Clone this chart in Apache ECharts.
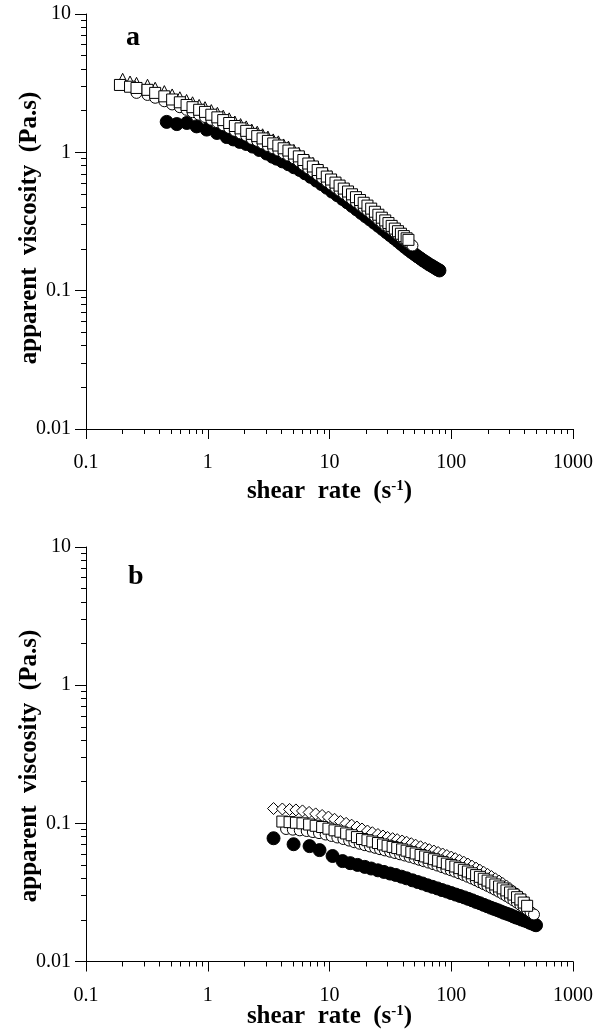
<!DOCTYPE html>
<html>
<head>
<meta charset="utf-8">
<script src="https://cdn.jsdelivr.net/npm/echarts@6.0.0/dist/echarts.min.js"></script>
<style>
html,body{margin:0;padding:0;background:#fff}
#chart{width:596px;height:1030px}
</style>
</head>
<body>
<div id="chart"></div>
<script>
// ---- panel a data (shear rate s-1, apparent viscosity Pa.s) ----
const aBlackX = [0.46,0.557,0.673,0.81,0.98,1.19,1.43,1.62,1.83,2.07,2.34,2.65,3.05,3.4,3.68,4.1,4.6,5.1,5.7,6.3,7.0,7.8,8.6,9.5,10.5,11.6,12.8,14.0,15.3,16.7,18.2,19.8,21.5,23.3,25.2,27.2,29.3,31.5,33.8,36.2,38.7,41.3,44.0,46.8,49.7,52.7,55.8,59.0,62.3,65.7,69.2,72.8,76.5,80];
const aBlackY = [1.66,1.60,1.63,1.54,1.46,1.38,1.29,1.24,1.19,1.15,1.10,1.04,0.98,0.93,0.90,0.86,0.82,0.78,0.745,0.705,0.665,0.625,0.59,0.555,0.52,0.49,0.46,0.435,0.41,0.387,0.365,0.345,0.327,0.31,0.294,0.279,0.265,0.252,0.24,0.229,0.218,0.208,0.199,0.191,0.184,0.177,0.171,0.165,0.16,0.155,0.151,0.147,0.143,0.14];

const aOpenX = [0.26,0.32,0.37,0.44,0.51,0.59,0.67,0.75,0.85,0.95,1.07,1.2,1.34,1.5,1.67,1.86,2.07,2.3,2.55,2.82,3.12,3.45,3.8,4.2,4.6,5.1,5.6,6.1,6.7,7.3,8.0,8.7,9.5,10.3,11.2,12.1,13.1,14.2,15.3,16.5,17.8,19.1,20.5,22.0,23.6,25.2,26.9,28.7,30.5,32.4,34.4,36.5,38.6,40.8,43.0,44.5,46.5,48];
const aOpenY = [2.69,2.60,2.48,2.34,2.22,2.12,2.03,1.95,1.87,1.80,1.72,1.65,1.57,1.50,1.43,1.37,1.32,1.25,1.21,1.16,1.11,1.07,1.03,0.985,0.948,0.905,0.86,0.81,0.765,0.727,0.686,0.65,0.615,0.585,0.556,0.529,0.503,0.479,0.457,0.436,0.416,0.397,0.379,0.361,0.343,0.327,0.311,0.297,0.287,0.275,0.264,0.253,0.243,0.234,0.226,0.221,0.216,0.212];

const aTriX = [0.2,0.23,0.26,0.32,0.37,0.44,0.51,0.59,0.67,0.75,0.85,0.95,1.07,1.2,1.34,1.5,1.67,1.86,2.07,2.3,2.55,2.82,3.12,3.45,3.8,4.2,4.6,5.1,5.6,6.1,6.7,7.3,8.0,8.7,9.5,10.3,11.2,12.1,13.1,14.2,15.3,16.5,17.8,19.1,20.5,22.0,23.6,25.2,26.9,28.7,30.5,32.4,34.4,36.5,38.6,40.8];
const aTriY = [3.40,3.25,3.18,3.08,2.93,2.77,2.62,2.50,2.39,2.30,2.20,2.12,2.02,1.93,1.84,1.76,1.67,1.60,1.54,1.46,1.41,1.35,1.30,1.24,1.20,1.14,1.10,1.04,0.99,0.935,0.88,0.838,0.79,0.748,0.706,0.672,0.637,0.606,0.576,0.548,0.522,0.498,0.474,0.453,0.432,0.411,0.39,0.371,0.353,0.337,0.322,0.308,0.294,0.282,0.270,0.260];

const aSquareX = [0.19,0.23,0.26,0.32,0.37,0.44,0.51,0.59,0.67,0.75,0.85,0.95,1.07,1.2,1.34,1.5,1.67,1.86,2.07,2.3,2.55,2.82,3.12,3.45,3.8,4.2,4.6,5.1,5.6,6.1,6.7,7.3,8.0,8.7,9.5,10.3,11.2,12.1,13.1,14.2,15.3,16.5,17.8,19.1,20.5,22.0,23.6,25.2,26.9,28.7,30.5,32.4,34.4,36.5,38.6,40.8,43.0,44.5];
const aSquareY = [3.07,2.98,2.92,2.83,2.69,2.54,2.41,2.30,2.20,2.12,2.03,1.96,1.87,1.79,1.71,1.63,1.55,1.49,1.43,1.36,1.31,1.26,1.21,1.16,1.12,1.07,1.03,0.98,0.935,0.88,0.83,0.79,0.745,0.706,0.668,0.636,0.604,0.575,0.547,0.521,0.497,0.474,0.452,0.432,0.412,0.392,0.372,0.354,0.337,0.322,0.308,0.294,0.281,0.269,0.258,0.248,0.239,0.233];

// ---- panel b data ----
const bBlackX = [3.47,5.07,6.86,8.28,10.6,12.8,14.8,17,19.5,22,25,28,31.5,35,39,43,48,53,58,64,70,77,84,92,100,109,118,128,138,149,160,172,185,198,212,226,241,256,272,289,306,324,342,361,380,400,420,441,462,484,497];
const bBlackY = [0.078,0.0706,0.0684,0.064,0.058,0.0533,0.0515,0.050,0.0484,0.0471,0.0457,0.0445,0.0433,0.0423,0.0411,0.040,0.0387,0.0376,0.0367,0.0356,0.0347,0.0338,0.0329,0.0321,0.0313,0.0305,0.0298,0.0291,0.0284,0.0277,0.0270,0.0264,0.0257,0.0251,0.0245,0.0240,0.0235,0.0230,0.0225,0.0221,0.0217,0.0212,0.0208,0.0205,0.0201,0.0198,0.0195,0.0191,0.0188,0.0185,0.0183];

const bOpenX = [4.4,5.0,5.7,6.5,7.3,8.2,9.3,10.4,11.6,13,14.5,16,17.7,19.5,21.5,23.7,26,28.5,31.5,34.5,38,41.5,45.5,50,54.5,59.5,65,71,77,84,91,99,107,116,126,136,147,159,171,184,198,213,229,246,264,283,303,324,346,369,393,418,448,478];
const bOpenY = [0.091,0.090,0.089,0.088,0.0865,0.085,0.083,0.081,0.079,0.077,0.075,0.073,0.0712,0.0695,0.068,0.0665,0.065,0.0637,0.0623,0.061,0.0597,0.0585,0.0572,0.0558,0.0545,0.0532,0.052,0.0507,0.0495,0.0482,0.047,0.0458,0.0447,0.0435,0.0423,0.0411,0.0399,0.0387,0.0375,0.0364,0.0353,0.0342,0.0331,0.032,0.0309,0.0298,0.0288,0.0277,0.0267,0.0257,0.0247,0.0238,0.0228,0.0219];

const bDiamondX = [3.47,4.1,4.7,5.3,6.0,6.8,7.7,8.7,9.8,11,12.3,13.7,15.2,16.8,18.5,20.5,22.5,25,27.5,30,33,36,39.5,43,47,51,56,61,66,72,78,85,92,100,108,117,127,137,148,160,172,185,199,214,230,247,265,284,304,325,347,370,394];
const bDiamondY = [0.128,0.127,0.126,0.125,0.123,0.120,0.117,0.114,0.111,0.107,0.103,0.100,0.097,0.094,0.091,0.088,0.0855,0.083,0.081,0.079,0.0775,0.0762,0.0745,0.073,0.0712,0.0695,0.0677,0.066,0.0645,0.063,0.0615,0.060,0.0585,0.057,0.0555,0.054,0.0523,0.0507,0.049,0.0474,0.0458,0.0442,0.0427,0.0412,0.0397,0.0382,0.0367,0.0352,0.0337,0.0322,0.0308,0.0294,0.028];

const bSquareX = [4.1,4.7,5.3,6.0,6.8,7.7,8.7,9.8,11,12.3,13.7,15.2,16.8,18.5,20.5,22.5,25,27.5,30,33,36,39.5,43,47,51,56,61,66,72,78,85,92,100,108,117,127,137,148,160,172,185,199,214,230,247,265,284,304,325,347,370,394,420];
const bSquareY = [0.103,0.102,0.101,0.100,0.098,0.096,0.094,0.0915,0.089,0.087,0.0845,0.082,0.0795,0.077,0.0755,0.0738,0.072,0.0703,0.0688,0.0675,0.0662,0.0648,0.0634,0.0619,0.0605,0.059,0.0576,0.0563,0.055,0.0537,0.0524,0.0511,0.0499,0.0487,0.0474,0.0461,0.0448,0.0435,0.0422,0.041,0.0397,0.0385,0.0373,0.0361,0.0349,0.0338,0.0327,0.0316,0.0305,0.0292,0.0281,0.0267,0.0253];

// tick labels
const xTickLabels = ['0.1','1','10','100','1000'];
const yTickLabels = ['0.01','0.1','1','10'];
const minorMult = [2,3,4,5,6,7,8,9];

const SERIF = '"Liberation Serif", "Times New Roman", serif';
const Y_TITLE = 'apparent  viscosity  (Pa.s)';

function pts(xs, ys){ return xs.map((x,i)=>[x, ys[i]]); }

// minor log tick positions (log10 space), axis decoration only
function minorLogs(lo, hi){
  const out=[];
  for(let e=lo;e<hi;e++) minorMult.forEach(m=>out.push(e+Math.log10(m)));
  return out;
}

const nameRich = {
  t:{fontFamily:SERIF,fontWeight:'bold',fontSize:25,color:'#000',lineHeight:26},
  s:{fontFamily:SERIF,fontWeight:'bold',fontSize:15,color:'#000',verticalAlign:'top',lineHeight:26}
};

function logX(g, gap){
  return {
    type:'log', logBase:10, gridIndex:g, min:0.1, max:1000, position:'bottom',
    name:'{t|shear  rate  (s}{s|-1}{t|)}', nameLocation:'middle', nameGap:gap, nameMoveOverlap:false,
    nameTextStyle:{rich:nameRich},
    axisLine:{onZero:false, lineStyle:{color:'#000', width:1}},
    axisTick:{length:10, lineStyle:{color:'#000'}},
    splitLine:{show:false},
    axisLabel:{fontFamily:SERIF, fontSize:20, color:'#000', margin:24,
      formatter:v=>xTickLabels[Math.round(Math.log10(v))+1]}
  };
}
function logY(g){
  return {
    type:'log', logBase:10, gridIndex:g, min:0.01, max:10, position:'left',
    axisLine:{onZero:false, lineStyle:{color:'#000', width:1}},
    axisTick:{length:11, lineStyle:{color:'#000'}},
    splitLine:{show:false},
    axisLabel:{fontFamily:SERIF, fontSize:20, color:'#000', margin:15,
      formatter:v=>yTickLabels[Math.round(Math.log10(v))+2]}
  };
}
function minorX(g){
  return {
    type:'value', gridIndex:g, min:-1, max:3, position:'bottom',
    axisLine:{show:false, onZero:false},
    axisTick:{show:true, length:5, customValues:minorLogs(-1,3), lineStyle:{color:'#000'}},
    axisLabel:{show:false}, splitLine:{show:false}
  };
}
function minorY(g){
  return {
    type:'value', gridIndex:g, min:-2, max:1, position:'left',
    axisLine:{show:false, onZero:false},
    axisTick:{show:true, length:5, customValues:minorLogs(-2,1), lineStyle:{color:'#000'}},
    axisLabel:{show:false}, splitLine:{show:false}
  };
}

function yTitle(cy){
  return {type:'text', x:30, y:cy, rotation:Math.PI/2,
    style:{text:Y_TITLE, font:'bold 25px "Liberation Serif"', fill:'#000', align:'center', verticalAlign:'middle'}};
}

function sc(name, g, data, symbol, size, filled){
  return {
    type:'scatter', name:name, xAxisIndex:g, yAxisIndex:g, data:data,
    symbol:symbol, symbolSize:size,
    itemStyle:{color: filled ? '#000' : '#fff', borderColor:'#000', borderWidth:1, opacity:1},
    emphasis:{disabled:true}
  };
}

const chart = echarts.init(document.getElementById('chart'), null, {renderer:'canvas'});
chart.setOption({
  animation:false,
  backgroundColor:'#fff',
  grid:[
    {left:86, top:14, width:488, height:415},
    {left:86, top:547, width:488, height:417}
  ],
  xAxis:[logX(0,50), logX(1,42), minorX(0), minorX(1)],
  yAxis:[logY(0), logY(1), minorY(0), minorY(1)],
  graphic:[
    yTitle(228),
    yTitle(766),
    {type:'text', left:126, top:24, style:{text:'a', font:'bold 28px "Liberation Serif"', fill:'#000'}},
    {type:'text', left:128, top:563, style:{text:'b', font:'bold 28px "Liberation Serif"', fill:'#000'}}
  ],
  series:[
    sc('a filled', 0, pts(aBlackX,aBlackY), 'circle', 13, true),
    sc('a open', 0, pts(aOpenX,aOpenY), 'circle', 11, false),
    sc('a triangle', 0, pts(aTriX,aTriY), 'triangle', 11, false),
    sc('a square', 0, pts(aSquareX,aSquareY), 'rect', 11, false),
    sc('b filled', 1, pts(bBlackX,bBlackY), 'circle', 13, true),
    sc('b open', 1, pts(bOpenX,bOpenY), 'circle', 11, false),
    sc('b diamond', 1, pts(bDiamondX,bDiamondY), 'diamond', 12, false),
    sc('b square', 1, pts(bSquareX,bSquareY), 'rect', 11, false)
  ]
});
</script>
</body>
</html>
